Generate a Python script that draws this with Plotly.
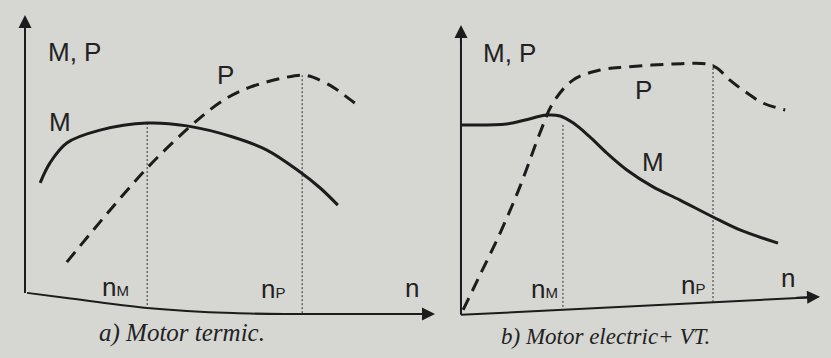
import plotly.graph_objects as go

# panel a) Motor termic  (n on x, M/P on y, arbitrary units 0..10)
a_m_n = [0.37, 0.61, 1.02, 1.83, 2.98, 3.95, 5.07, 5.90, 6.71, 7.20, 7.63]
a_m_v = [4.11, 4.81, 5.51, 5.96, 6.21, 6.11, 5.72, 5.26, 4.49, 3.93, 3.33]
a_p_n = [1.02, 2.98, 4.27, 4.93, 5.49, 6.39, 6.76, 7.02, 7.51, 7.85, 8.17]
a_p_v = [1.33, 4.63, 6.39, 7.09, 7.47, 7.82, 7.89, 7.82, 7.47, 7.12, 6.77]
a_axis_n = [0.05, 1.02, 2.98, 5.07, 6.76, 9.95]
a_axis_v = [0.25, 0.07, -0.28, -0.46, -0.49, -0.49]
a_nm, a_np = 2.98, 6.76
a_nm_top, a_nm_bot = 6.21, -0.28
a_np_top, a_np_bot = 7.89, -0.49

# panel b) Motor electric + VT
b_m_n = [0.02, 1.27, 1.73, 2.39, 2.76, 3.12, 3.59, 4.06, 4.62, 5.35, 6.10, 7.02, 7.77, 8.83]
b_m_v = [6.52, 6.55, 6.67, 6.86, 6.83, 6.59, 6.10, 5.54, 4.95, 4.36, 3.90, 3.31, 2.86, 2.40]
b_p_n = [0.06, 0.53, 1.09, 1.64, 2.20, 2.56, 3.12, 3.87, 4.62, 5.91, 6.85, 7.13, 7.49, 7.97, 8.41, 9.03]
b_p_v = [0.07, 1.29, 2.75, 4.36, 6.24, 7.28, 8.08, 8.43, 8.54, 8.64, 8.64, 8.50, 8.08, 7.63, 7.28, 7.04]
b_axis_n = [0.0, 9.95]
b_axis_v = [-0.1, 0.52]
b_nm, b_np = 2.84, 7.02
b_nm_top, b_nm_bot = 6.52, -0.03
b_np_top, b_np_bot = 8.64, 0.31

INK = "#1c1c1c"
BG = "#d6d6d3"
SANS = "Liberation Sans, Arial, sans-serif"
SERIF = "Liberation Serif, Times New Roman, serif"

fig = go.Figure()


def add_panel(xa, ya, m_n, m_v, p_n, p_v, ax_n, ax_v, nm, nm_top, nm_bot, np_, np_top, np_bot):
    # axes drawn as lines
    fig.add_trace(go.Scatter(x=ax_n, y=ax_v, mode="lines", line=dict(color=INK, width=2, shape="spline"),
                             xaxis=xa, yaxis=ya, hoverinfo="skip"))
    fig.add_trace(go.Scatter(x=[0, 0], y=[ax_v[0], 9.6], mode="lines", line=dict(color=INK, width=2),
                             xaxis=xa, yaxis=ya, hoverinfo="skip"))
    # marker lines for n_M, n_P
    fig.add_trace(go.Scatter(x=[nm, nm], y=[nm_top, nm_bot], mode="lines",
                             line=dict(color="#333", width=1, dash="2px,2px"),
                             xaxis=xa, yaxis=ya, hoverinfo="skip"))
    fig.add_trace(go.Scatter(x=[np_, np_], y=[np_top, np_bot], mode="lines",
                             line=dict(color="#333", width=1, dash="2px,2px"),
                             xaxis=xa, yaxis=ya, hoverinfo="skip"))
    # torque M and power P
    fig.add_trace(go.Scatter(x=m_n, y=m_v, mode="lines", line=dict(color=INK, width=3, shape="spline"),
                             xaxis=xa, yaxis=ya, name="M"))
    fig.add_trace(go.Scatter(x=p_n, y=p_v, mode="lines",
                             line=dict(color=INK, width=3, shape="spline", dash="13px,8px"),
                             xaxis=xa, yaxis=ya, name="P"))


add_panel("x", "y", a_m_n, a_m_v, a_p_n, a_p_v, a_axis_n, a_axis_v,
          a_nm, a_nm_top, a_nm_bot, a_np, a_np_top, a_np_bot)
add_panel("x2", "y2", b_m_n, b_m_v, b_p_n, b_p_v, b_axis_n, b_axis_v,
          b_nm, b_nm_top, b_nm_bot, b_np, b_np_top, b_np_bot)

ann = []
# arrowheads
for xr, yr, x, y, ax, ay in [
    ("x", "y", 0, 10.0, 0, 9.3),
    ("x", "y", 10.0, a_axis_v[-1], 9.3, a_axis_v[-1]),
    ("x2", "y2", 0, 10.0, 0, 9.3),
    ("x2", "y2", 10.0, 0.53, 9.3, 0.49),
]:
    ann.append(dict(xref=xr, yref=yr, axref=xr, ayref=yr, x=x, y=y, ax=ax, ay=ay, text="",
                    showarrow=True, arrowhead=2, arrowsize=1.3, arrowwidth=2, arrowcolor=INK))

SUB = "<span style='font-size:15px'>%s</span>"
labels = [
    ("x", "y", 1.2, 8.7, "M, P"), ("x", "y", 4.88, 7.9, "P"), ("x", "y", 0.85, 6.25, "M"),
    ("x", "y", 2.2, 0.45, "n" + SUB % "M"), ("x", "y", 6.05, 0.4, "n" + SUB % "P"), ("x", "y", 9.44, 0.42, "n"),
    ("x2", "y2", 1.36, 9.02, "M, P"), ("x2", "y2", 5.07, 7.73, "P"), ("x2", "y2", 5.35, 5.23, "M"),
    ("x2", "y2", 2.34, 0.8, "n" + SUB % "M"), ("x2", "y2", 6.46, 0.95, "n" + SUB % "P"), ("x2", "y2", 9.1, 1.18, "n"),
]
for xr, yr, x, y, t in labels:
    ann.append(dict(xref=xr, yref=yr, x=x, y=y, text=t, showarrow=False,
                    font=dict(family=SANS, size=26, color="#222")))

ann.append(dict(xref="paper", yref="paper", x=182 / 831, y=1 - 333 / 358, text="<i>a) Motor termic.</i>",
                xanchor="center", yanchor="middle", showarrow=False,
                font=dict(family=SERIF, size=25, color="#222")))
ann.append(dict(xref="paper", yref="paper", x=605 / 831, y=1 - 336 / 358, text="<i>b) Motor electric+ VT.</i>",
                xanchor="center", yanchor="middle", showarrow=False,
                font=dict(family=SERIF, size=23, color="#222")))

hidden = dict(visible=False, fixedrange=True)
fig.update_layout(
    width=831, height=358,
    margin=dict(l=0, r=0, t=0, b=0),
    paper_bgcolor=BG, plot_bgcolor="rgba(0,0,0,0)",
    showlegend=False,
    annotations=ann,
    xaxis=dict(range=[-0.4, 10.3], domain=[8.6 / 831, 447.3 / 831], **hidden),
    yaxis=dict(range=[-0.8, 10.3], domain=[1 - 322.8 / 358, 1 - 6.45 / 358], **hidden),
    xaxis2=dict(range=[-0.25, 10.3], domain=[452 / 831, 830.8 / 831], anchor="y2", **hidden),
    yaxis2=dict(range=[-0.6, 10.3], domain=[1 - 329.2 / 358, 1 - 16.4 / 358], anchor="x2", **hidden),
)

fig.write_html("out.html", config={"displayModeBar": False},
               post_script="document.body.style.margin='0';document.body.style.overflow='hidden';")
